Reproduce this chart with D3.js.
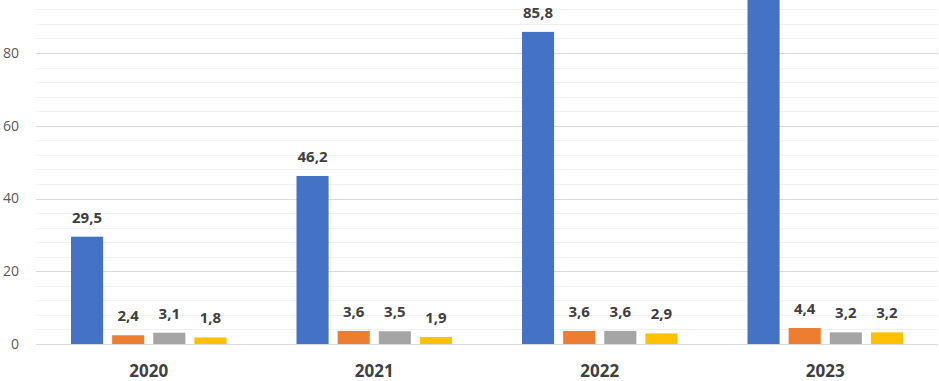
<!DOCTYPE html>
<html lang="en">
<head>
    <meta charset="UTF-8">
    <title>Bar chart 2020-2023</title>
    <script src="https://d3js.org/d3.v7.min.js"></script>
    <style>
        body { margin: 0; background: #fff; }
        svg { display: block; }
        .grid-minor line { stroke: #f0f0f0; stroke-width: 1px; }
        .grid-major line { stroke: #d9d9d9; stroke-width: 1px; }
        .ylab { font-family: "Open Sans", sans-serif; font-size: 14px; fill: #595959; }
        .xlab { font-family: "Open Sans", sans-serif; font-size: 17px; font-weight: bold; fill: #404040; }
        .val { font-family: "Open Sans", sans-serif; font-size: 15px; font-weight: bold; fill: #404040; }
    </style>
</head>
<body>
    <svg width="939" height="381"></svg>
    <script>
        const years = ["2020", "2021", "2022", "2023"];
        const seriesNames = ["s1", "s2", "s3", "s4"];
        const s1 = [29.5, 46.2, 85.8, 100];
        const s2 = [2.4, 3.6, 3.6, 4.4];
        const s3 = [3.1, 3.5, 3.6, 3.2];
        const s4 = [1.8, 1.9, 2.9, 3.2];
        const colors = ["#4472c4", "#ed7d31", "#a5a5a5", "#ffc000"];
        const majorTicks = [0, 20, 40, 60, 80];

        const svg = d3.select("svg");
        const allSeries = [s1, s2, s3, s4];

        const x = d3.scaleBand().domain(years).range([36, 938]);
        const xs = d3.scaleBand().domain(seriesNames)
            .range([35, 225.5 - 35]).paddingInner(0.22);
        const y = d3.scaleLinear().domain([0, 80]).range([344, 53]);

        // minor gridlines every 4
        svg.append("g").attr("class", "grid-minor")
            .selectAll("line")
            .data(d3.range(4, 100, 4).filter(v => v % 20 !== 0))
            .enter().append("line")
            .attr("x1", 36).attr("x2", 938)
            .attr("y1", d => Math.round(y(d)) + 0.5)
            .attr("y2", d => Math.round(y(d)) + 0.5);

        svg.append("g").attr("class", "grid-major")
            .selectAll("line")
            .data(majorTicks)
            .enter().append("line")
            .attr("x1", 36).attr("x2", 938)
            .attr("y1", d => Math.round(y(d)) + 0.5)
            .attr("y2", d => Math.round(y(d)) + 0.5);

        svg.append("g").selectAll("text")
            .data(majorTicks)
            .enter().append("text")
            .attr("class", "ylab")
            .attr("x", 19)
            .attr("y", d => y(d))
            .attr("dy", "0.35em")
            .attr("text-anchor", "end")
            .text(d => d);

        const fmt = v => String(v).replace(".", ",");

        const groups = svg.append("g").selectAll("g")
            .data(years)
            .enter().append("g")
            .attr("transform", d => `translate(${x(d)},0)`);

        const cells = (d, i) => allSeries.map((s, k) => ({ k: k, v: s[i] }));

        groups.selectAll("rect")
            .data(cells)
            .enter().append("rect")
            .attr("x", d => xs(seriesNames[d.k]))
            .attr("width", xs.bandwidth())
            .attr("y", d => y(d.v))
            .attr("height", d => y(0) - y(d.v))
            .attr("fill", d => colors[d.k]);

        // labels above the top of the picture are not shown (chart is cropped there)
        groups.selectAll("text.val")
            .data((d, i) => cells(d, i).filter(c => y(c.v) - 14 > 12))
            .enter().append("text")
            .attr("class", "val")
            .attr("x", d => xs(seriesNames[d.k]) + xs.bandwidth() / 2)
            .attr("y", d => y(d.v) - 14)
            .attr("text-anchor", "middle")
            .text(d => fmt(d.v));

        svg.append("g").selectAll("text")
            .data(years)
            .enter().append("text")
            .attr("class", "xlab")
            .attr("x", d => x(d) + x.bandwidth() / 2)
            .attr("y", 377)
            .attr("text-anchor", "middle")
            .text(d => d);
    </script>
</body>
</html>
